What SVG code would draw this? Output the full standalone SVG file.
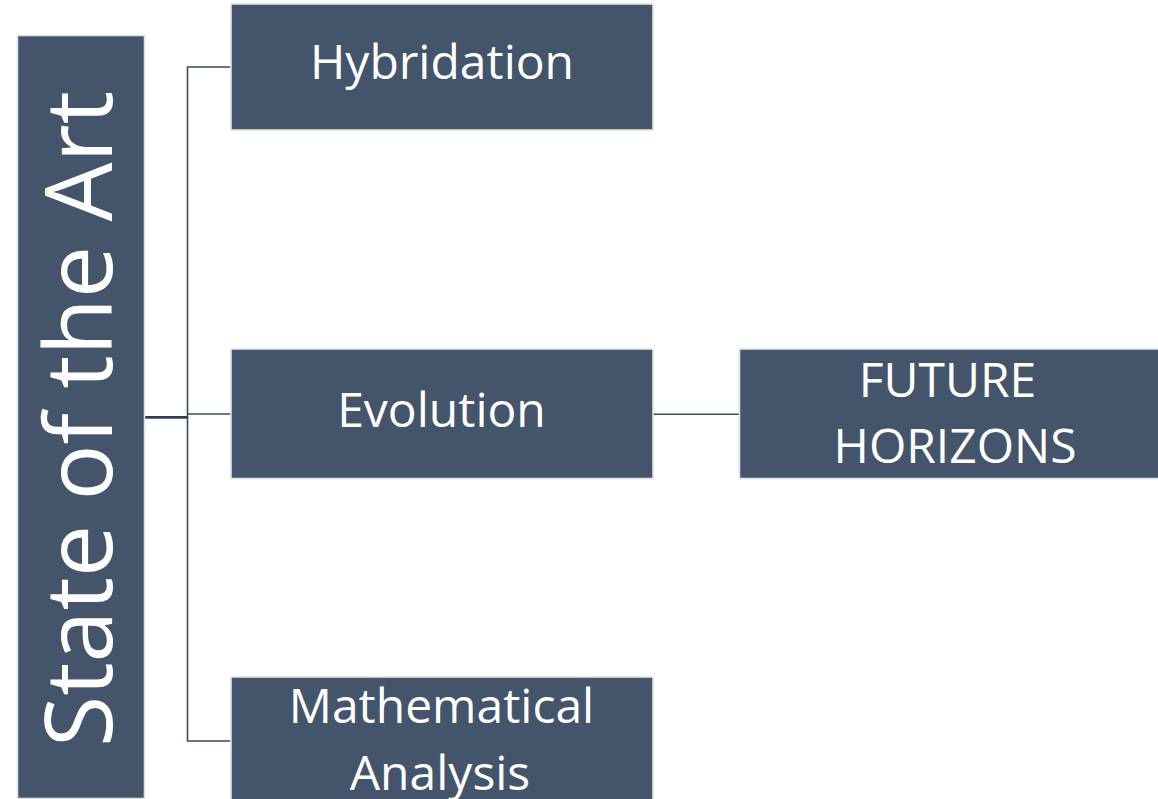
<svg xmlns="http://www.w3.org/2000/svg" width="1158" height="799" viewBox="0 0 1158 799">
  <style>
    .box { fill: #44546a; stroke: #e2e2e2; stroke-width: 1.6; }
    .label { fill: #ffffff; font-family: "Open Sans", "Liberation Sans", sans-serif; font-size: 48px; text-anchor: middle; }
    .title { fill: #ffffff; font-family: "Open Sans", "Liberation Sans", sans-serif; font-size: 94px; text-anchor: middle; }
    .wire { fill: none; stroke: #3a4960; stroke-width: 1.6; }
    .trunk { fill: none; stroke: #2f3d50; stroke-width: 2.8; }
  </style>
  <rect width="1158" height="799" fill="#ffffff"/>

  <g id="connectors">
    <path class="trunk" d="M145,417.3 H187.5"/>
    <path class="wire" d="M231,67 H187.5 V741 H231"/>
    <path class="wire" d="M187.5,414 H231"/>
    <path class="wire" d="M653,414.3 H739"/>
  </g>

  <g id="state-of-the-art">
    <rect class="box" x="17.5" y="35.5" width="127" height="763"/>
    <text class="title" transform="translate(112,419) rotate(-90)" textLength="656" lengthAdjust="spacingAndGlyphs">State of the Art</text>
  </g>

  <g id="hybridation">
    <rect class="box" x="231" y="4" width="422" height="126"/>
    <text class="label" x="442" y="79">Hybridation</text>
  </g>

  <g id="evolution">
    <rect class="box" x="231" y="349" width="422" height="129.5"/>
    <text class="label" x="441.5" y="426.7">Evolution</text>
  </g>

  <g id="future-horizons">
    <rect class="box" x="739.5" y="349" width="430" height="129.5"/>
    <text class="label" x="947.5" y="397.3">FUTURE</text>
    <text class="label" x="955" y="462.7">HORIZONS</text>
  </g>

  <g id="mathematical-analysis">
    <rect class="box" x="231" y="677" width="422" height="140"/>
    <text class="label" x="441.5" y="723.3">Mathematical</text>
    <text class="label" x="440" y="790">Analysis</text>
  </g>
</svg>
